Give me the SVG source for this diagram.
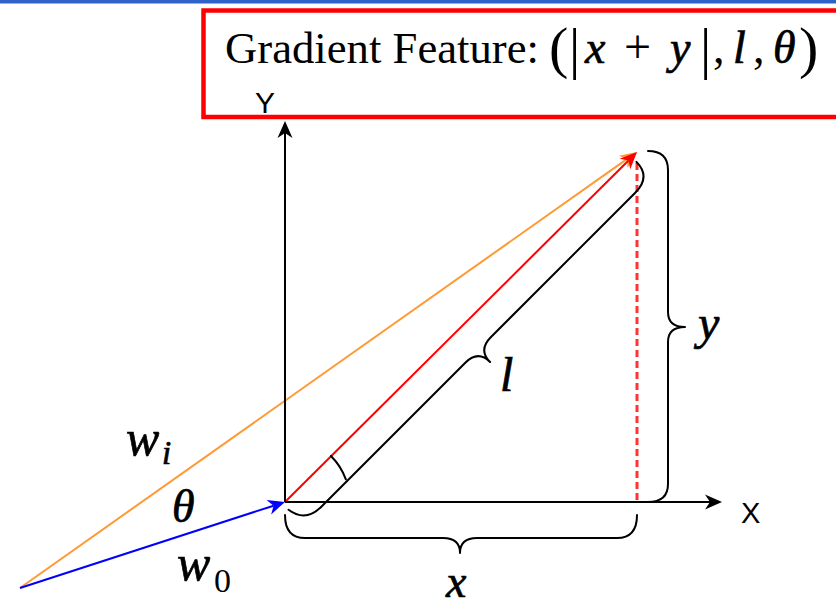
<svg xmlns="http://www.w3.org/2000/svg" width="836" height="607" viewBox="0 0 836 607">
<defs>
<style>
.serif{font-family:"Liberation Serif","Times New Roman",serif;fill:#000}
.math{font-family:"Liberation Serif","Times New Roman",serif;font-style:italic;fill:#000;stroke:#000;stroke-width:0.7}
.sans{font-family:"Liberation Sans",Arial,sans-serif;fill:#000}
.brace{fill:none;stroke:#000;stroke-width:2;stroke-linecap:round;stroke-linejoin:round}
.conn{fill:none;stroke-width:2}
</style>
<marker id="ah-black" markerUnits="userSpaceOnUse" viewBox="-6 -9 20 18" refX="0" refY="0" markerWidth="20" markerHeight="18" orient="auto">
<path d="M12,0 L-5,-7.5 L0,0 L-5,7.5 Z" fill="#000"/>
</marker>
<marker id="ah-red" markerUnits="userSpaceOnUse" viewBox="-6 -9 20 18" refX="0" refY="0" markerWidth="20" markerHeight="18" orient="auto">
<path d="M12,0 L-5,-7.5 L0,0 L-5,7.5 Z" fill="#ff0000"/>
</marker>
<marker id="ah-orange" markerUnits="userSpaceOnUse" viewBox="-6 -9 20 18" refX="0" refY="0" markerWidth="20" markerHeight="18" orient="auto">
<path d="M12,0 L-5,-7.5 L0,0 L-5,7.5 Z" fill="#ff9933"/>
</marker>
<marker id="ah-blue" markerUnits="userSpaceOnUse" viewBox="-6 -9 20 18" refX="0" refY="0" markerWidth="20" markerHeight="18" orient="auto">
<path d="M12,0 L-5,-7.5 L0,0 L-5,7.5 Z" fill="#0000ff"/>
</marker>
</defs>
<rect x="0" y="0" width="836" height="607" fill="#fff"/>
<rect id="top-bar" x="0" y="0" width="836" height="3.5" fill="#2e62c9"/>

<g id="title-box">
<rect x="203.5" y="10.5" width="700" height="106.5" fill="none" stroke="#ff0000" stroke-width="4.5"/>
<text class="serif" x="225" y="63" font-size="44" textLength="314" lengthAdjust="spacingAndGlyphs">Gradient Feature:</text>
<text class="serif" x="549" y="67" font-size="58">(</text>
<text class="serif" x="569" y="68" font-size="56">|</text>
<text class="math" x="585" y="63" font-size="46">x</text>
<text class="serif" x="624" y="63" font-size="48">+</text>
<text class="math" x="670" y="63" font-size="46">y</text>
<text class="serif" x="700" y="68" font-size="56">|</text>
<text class="serif" x="713" y="63" font-size="46">,</text>
<text class="math" x="733" y="63" font-size="46">l</text>
<text class="serif" x="753" y="63" font-size="46">,</text>
<text class="math" x="773" y="63" font-size="46">θ</text>
<text class="serif" x="799" y="67" font-size="58">)</text>
</g>

<g id="connectors">
<path class="conn" d="M20,588 L627.2,158.9" stroke="#ff9933" marker-end="url(#ah-orange)"/>
<path class="conn" d="M285,502 L628.5,160.5" stroke="#ff0000" marker-end="url(#ah-red)"/>
<path class="conn" d="M20,588 L273.6,505.7" stroke="#0000ff" stroke-width="2.5" marker-end="url(#ah-blue)"/>
<path id="axis-y" class="conn" d="M285,502 L285,133" stroke="#000" marker-end="url(#ah-black)"/>
<path id="axis-x" class="conn" d="M285,502 L710,502" stroke="#000" marker-end="url(#ah-black)"/>
<path id="y-projection" d="M637,163 L637,502" fill="none" stroke="#ff3333" stroke-width="3" stroke-dasharray="7 4"/>
</g>

<g id="label-Y"><text class="sans" x="265" y="113" font-size="30" text-anchor="middle">Y</text></g>
<g id="label-X"><text class="sans" x="741" y="523" font-size="29">X</text></g>

<g id="brace-x">
<path class="brace" d="M285,515 Q285,538 305,538 L443,538 Q460,538 460,553 Q460,538 477,538 L617,538 Q637,538 637,515"/>
<text class="math" x="446" y="597" font-size="46">x</text>
</g>

<g id="brace-y">
<path class="brace" d="M648,151 Q668,151 668,170 L668,312 Q668,327 685,327 Q668,327 668,342 L668,484 Q668,502 648,502"/>
<text class="math" x="698" y="339" font-size="48">y</text>
</g>

<g id="brace-l">
<path class="brace" transform="translate(285,502) rotate(-45)" d="M-3,8 Q0,29 22,29 L226,29 Q244,29 244,46 Q244,29 262,29 L466,29 Q489,29 489,8"/>
<path class="brace" transform="translate(285,502) rotate(-45)" d="M65,0 A65,65 0 0 1 59.1,27"/>
<text class="math" x="500" y="391" font-size="48">l</text>
</g>

<g id="label-wi">
<text class="math" x="126" y="455" font-size="50">w</text>
<text class="math" x="162" y="464" font-size="33">i</text>
</g>
<g id="label-theta"><text class="math" x="172" y="522" font-size="46">θ</text></g>
<g id="label-w0">
<text class="math" x="177" y="580" font-size="50">w</text>
<text class="serif" x="214" y="592" font-size="34">0</text>
</g>
</svg>
